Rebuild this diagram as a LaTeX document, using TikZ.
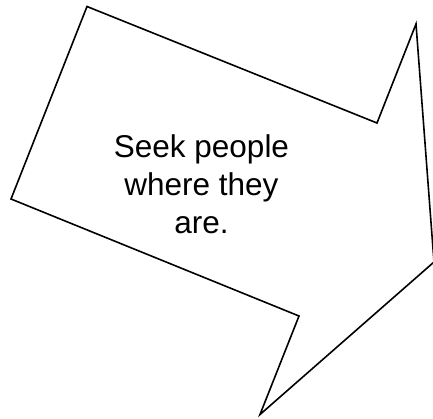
\documentclass[tikz,border=0pt]{standalone}
\usepackage{fontspec}
\setmainfont{Liberation Sans}
\usepackage{tikz}

\begin{document}
\begin{tikzpicture}[x=1pt,y=-1pt]

  % Frame of the page
  \useasboundingbox (0,0) rectangle (433,418);

  % Corners of the tilted arrow
  \coordinate (topleft)  at (87,6.5);
  \coordinate (notchtop) at (377,123);
  \coordinate (headtop)  at (416,24);
  \coordinate (tip)      at (434,262);
  \coordinate (headbot)  at (260,414.5);
  \coordinate (notchbot) at (299,316);
  \coordinate (left)     at (11,199);

  % Outline
  \draw[line width=1.6pt,line join=miter]
    (topleft) -- (notchtop) -- (headtop) -- (tip) -- (headbot)
    -- (notchbot) -- (left) -- cycle;

  % Text
  \node[align=center,inner sep=0pt,font=\fontsize{31.5}{38}\selectfont]
    (label) at (201.5,184) {Seek people\\where they\\are.};

\end{tikzpicture}
\end{document}
